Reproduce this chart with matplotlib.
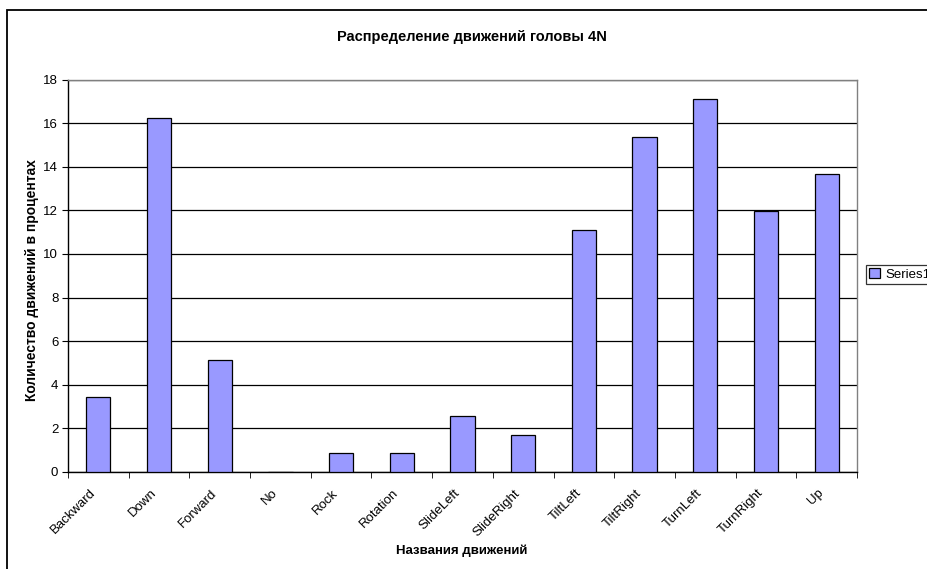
import matplotlib
matplotlib.use("Agg")
import matplotlib.pyplot as plt
from matplotlib.patches import Rectangle
from matplotlib.transforms import ScaledTranslation

plt.rcParams['font.family'] = ['Liberation Sans', 'DejaVu Sans']

categories = ["Backward", "Down", "Forward", "No", "Rock", "Rotation", "SlideLeft",
              "SlideRight", "TiltLeft", "TiltRight", "TurnLeft", "TurnRight", "Up"]
series1 = [3.42, 16.24, 5.13, 0.0, 0.85, 0.85, 2.56, 1.71, 11.11, 15.38, 17.09, 11.97, 13.68]
y_ticks = [0, 2, 4, 6, 8, 10, 12, 14, 16, 18]

W, H = 927, 569
fig = plt.figure(figsize=(W / 100, H / 100), dpi=100)
fig.patch.set_facecolor("white")

# outer chart frame (runs off the right and bottom edges)
fig.patches.append(Rectangle((7 / W, -0.05), 1.2, (H - 10) / H + 0.05,
                             transform=fig.transFigure, fill=False,
                             edgecolor="black", linewidth=1.3))

left, right, top, bottom = 68, 857, 79.5, 472
ax = fig.add_axes([left / W, 1 - bottom / H, (right - left) / W, (bottom - top) / H])

x = list(range(len(categories)))
ax.bar(x, series1, width=0.4, color="#9999FF", edgecolor="black", linewidth=0.9,
       label="Series1", zorder=3)

ax.set_xlim(-0.5, len(categories) - 0.5)
ax.set_ylim(0, 18)
ax.set_yticks(y_ticks)
ax.set_yticklabels([str(v) for v in y_ticks], fontsize=9.5)
ax.yaxis.grid(True, color="black", linewidth=0.9, zorder=0)
ax.set_axisbelow(True)

ax.set_xticks(x)
ax.set_xticklabels(categories, rotation=45, ha="right", rotation_mode="anchor", fontsize=9.5)
ax.tick_params(axis="x", length=0, pad=8)
shift = ScaledTranslation(-9 / 100, -4 / 100, fig.dpi_scale_trans)
for lbl in ax.get_xticklabels():
    lbl.set_transform(lbl.get_transform() + shift)
ax.set_xticks([i + 0.5 for i in range(-1, len(categories))], minor=True)
ax.tick_params(axis="x", which="minor", length=4, direction="out", color="black")
ax.tick_params(axis="y", length=4, direction="out", color="black", pad=3)

for s in ("left", "bottom"):
    ax.spines[s].set_color("black")
    ax.spines[s].set_linewidth(1.0)
for s in ("top", "right"):
    ax.spines[s].set_color("#808080")
    ax.spines[s].set_linewidth(1.0)

fig.text(472 / W, 1 - 37 / H, "Распределение движений головы 4N", ha="center", va="center",
         fontsize=10.5, fontweight="bold")
fig.text(462 / W, 1 - 551 / H, "Названия движений", ha="center", va="center",
         fontsize=9.5, fontweight="bold")
fig.text(32 / W, 1 - 280 / H, "Количество движений в процентах", ha="center", va="center",
         rotation=90, fontsize=10, fontweight="bold")

leg = ax.legend(loc="upper left", bbox_to_anchor=(866 / W, 1 - 265 / H),
                bbox_transform=fig.transFigure, fontsize=9.5, frameon=True, fancybox=False,
                handlelength=0.8, handleheight=0.8, handletextpad=0.4, borderpad=0.25,
                borderaxespad=0)
leg.get_frame().set_edgecolor("black")
leg.get_frame().set_linewidth(0.9)

fig.savefig("out.png", dpi=100)
